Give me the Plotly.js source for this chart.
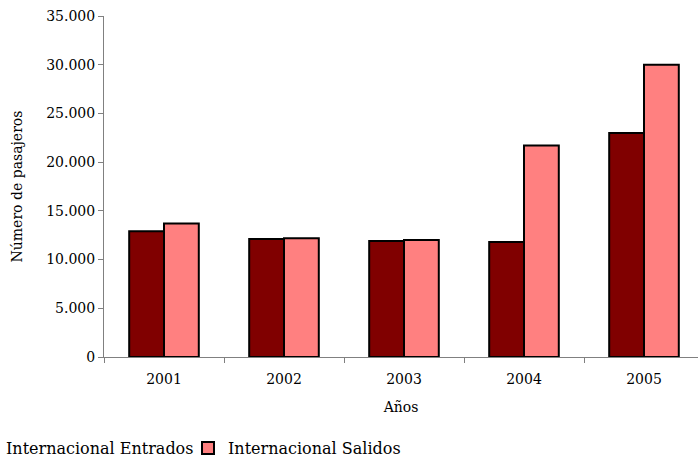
<!DOCTYPE html>
<html>
<head>
<meta charset="utf-8">
<script src="https://cdn.plot.ly/plotly-3.0.1.min.js"></script>
<style>html,body{margin:0;padding:0;background:#fff;}#chart{width:698px;height:459px;}</style>
</head>
<body>
<div id="chart"></div>
<script>
const years = ['2001', '2002', '2003', '2004', '2005'];
const entrados = [12900, 12100, 11900, 11800, 23000];
const salidos = [13700, 12200, 12000, 21700, 30000];
const seriesNames = ['Internacional Entrados', 'Internacional Salidos'];
const yTicks = [0, 5000, 10000, 15000, 20000, 25000, 30000, 35000];
const yTickLabels = ['0', '5.000', '10.000', '15.000', '20.000', '25.000', '30.000', '35.000'];

const FONT = 'DejaVu Serif, Liberation Serif, serif';
const W = 698, H = 459, L = 104, R = 0, T = 16, B = 102;
const pw = W - L - R, ph = H - T - B;

const traces = [
  {type: 'bar', name: seriesNames[0], x: years, y: entrados,
   marker: {color: '#800000', line: {color: '#000000', width: 2}}},
  {type: 'bar', name: seriesNames[1], x: years, y: salidos,
   marker: {color: '#FF8080', line: {color: '#000000', width: 2}}}
];

const layout = {
  width: W, height: H,
  margin: {l: L, r: R, t: T, b: B, autoexpand: false},
  paper_bgcolor: '#ffffff', plot_bgcolor: '#ffffff',
  font: {family: FONT, size: 14, color: '#000000'},
  barmode: 'group', bargap: 0.42, bargroupgap: 0,
  showlegend: true,
  legend: {orientation: 'h', x: (-34 - L) / pw, xanchor: 'left', y: (T + ph - 448) / ph, yanchor: 'middle',
           font: {family: FONT, size: 16, color: '#000000'}, bgcolor: 'rgba(0,0,0,0)', itemwidth: 30,
           traceorder: 'normal', entrywidth: 177, entrywidthmode: 'pixels'},
  xaxis: {
    type: 'category', range: [-0.5, -0.5 + pw / 120], tickson: 'boundaries',
    showline: true, linecolor: '#808080', linewidth: 1,
    ticks: 'outside', ticklen: 5, tickcolor: '#808080', tickwidth: 1,
    showgrid: false, zeroline: false, automargin: false, ticklabelstandoff: 9,
    tickfont: {family: FONT, size: 14, color: '#000000'},
    title: {text: 'Años', font: {family: FONT, size: 14, color: '#000000'}, standoff: 16}
  },
  yaxis: {
    range: [0, 35000], tickvals: yTicks, ticktext: yTickLabels,
    showline: true, linecolor: '#808080', linewidth: 1,
    ticks: 'outside', ticklen: 5, tickcolor: '#808080', tickwidth: 1,
    showgrid: false, zeroline: false, automargin: false,
    tickfont: {family: FONT, size: 14, color: '#000000'},
    title: {text: 'Número de pasajeros', font: {family: FONT, size: 14, color: '#000000'}, standoff: 20}
  }
};

Plotly.newPlot('chart', traces, layout, {displayModeBar: false, staticPlot: true});
</script>
</body>
</html>
